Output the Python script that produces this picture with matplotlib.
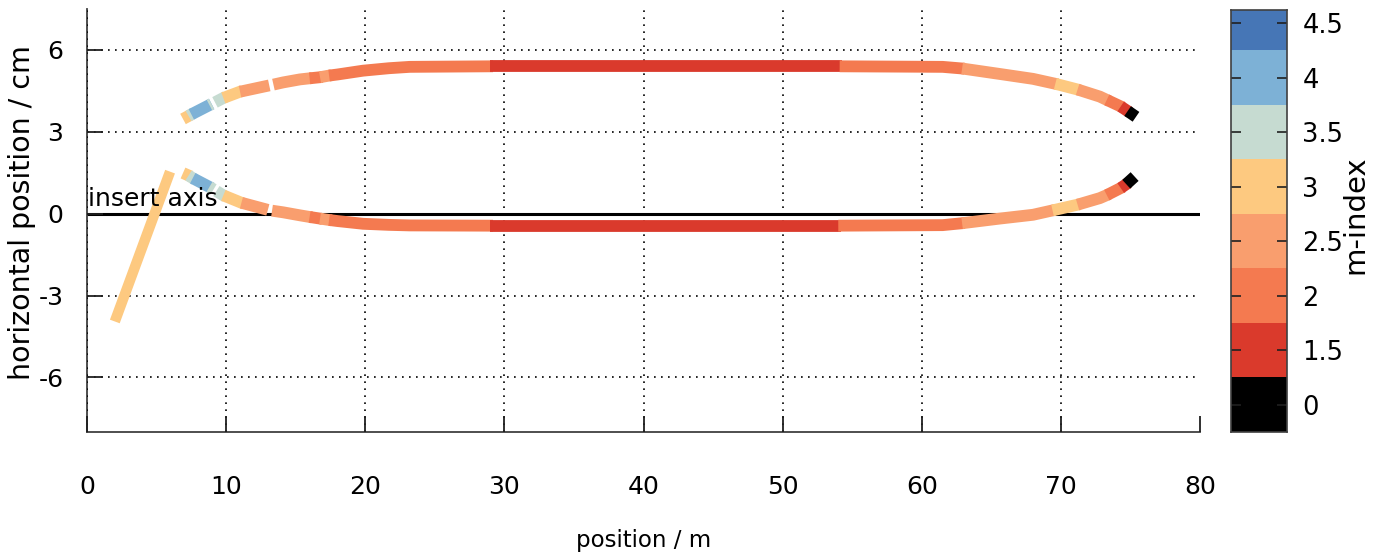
import numpy as np
import matplotlib
matplotlib.use("Agg")
import matplotlib.pyplot as plt
from matplotlib.colors import ListedColormap, BoundaryNorm

plt.rcParams['font.family'] = ['DejaVu Sans']

# ---------------- data ----------------
m_levels = [0, 1.5, 2, 2.5, 3, 3.5, 4, 4.5]
m_labels = ["0", "1.5", "2", "2.5", "3", "3.5", "4", "4.5"]
m_colors = ["#000000", "#DA3A2C", "#F47A50", "#F99E6E", "#FDC980",
            "#C6DBD1", "#7DB1D6", "#4676B6"]

upper_pos = [6.9, 7.3, 7.5, 8.8, 8.95, 9.2, 9.8, 11.0, 13.1, 13.4, 14.1, 15.3,
             16.0, 16.75, 17.4, 18.0, 19.84, 21.7, 23.2, 29.0, 54.1, 61.5,
             62.9, 65.6, 68.0, 69.6, 71.2, 72.8, 73.3, 74.3, 74.8, 75.4]
upper_h = [3.47, 3.58, 3.64, 3.98, 4.02, 4.08, 4.24, 4.47, 4.70, 4.73, 4.81,
           4.92, 4.96, 5.00, 5.06, 5.10, 5.24, 5.33, 5.38, 5.40, 5.40, 5.38,
           5.32, 5.12, 4.94, 4.76, 4.55, 4.29, 4.17, 3.93, 3.76, 3.55]
upper_m = [3.0, 3.5, 4.0, 3.5, np.nan, 3.5, 3.0, 2.5, np.nan, 2.5, 2.5, 2.5,
           2.0, 2.5, 2.0, 2.0, 2.0, 2.0, 2.0, 1.5, 2.0, 2.0,
           2.5, 2.5, 2.5, 3.0, 2.5, 2.5, 2.0, 1.5, 0, np.nan]

lower_pos = [6.9, 7.3, 7.6, 8.8, 9.1, 9.3, 9.8, 11.1, 13.0, 13.3, 14.1, 15.3,
             16.0, 16.75, 17.4, 18.0, 19.84, 21.7, 23.2, 29.0, 54.0, 61.5,
             62.9, 65.6, 68.0, 69.4, 71.2, 72.8, 73.3, 74.3, 74.7, 75.3]
lower_h = [1.49, 1.40, 1.30, 0.98, 0.89, 0.83, 0.67, 0.40, 0.14, 0.11, 0.05,
           -0.06, -0.12, -0.18, -0.23, -0.27, -0.37, -0.41, -0.43, -0.44, -0.44,
           -0.42, -0.35, -0.18, -0.04, 0.12, 0.33, 0.57, 0.68, 0.94, 1.08, 1.36]
lower_m = upper_m

insert_pos = [2.0, 5.97]
insert_h = [-3.95, 1.54]
insert_m = 3.0

# ---------------- figure ----------------
W, H = 1374, 555
fig = plt.figure(figsize=(W / 100, H / 100), dpi=100)
ax = fig.add_axes([87 / W, (H - 432) / H, (1200 - 87) / W, (432 - 9) / H])
ax.set_xlim(0, 80)
ax.set_ylim(-8, 7.5)

cmap = ListedColormap(m_colors)
LW = 8.5


def color_of(m):
    return m_colors[m_levels.index(m)]


def extend_end(x0, y0, x1, y1, px=2.5):
    # lengthen the end of a run slightly (in screen pixels) to close joint wedges
    t = ax.transData
    p0 = t.transform((x0, y0))
    p1 = t.transform((x1, y1))
    d = p1 - p0
    d = d / np.hypot(*d)
    return t.inverted().transform(p1 + d * px)


def draw_curve(xs, ys, ms):
    n = len(xs) - 1
    i = 0
    while i < n:
        if np.isnan(ms[i]):
            i += 1
            continue
        j = i
        while j + 1 < n and ms[j + 1] == ms[i]:
            j += 1
        px_ = list(xs[i:j + 2])
        py_ = list(ys[i:j + 2])
        if j + 1 < n and not np.isnan(ms[j + 1]):
            ex, ey = extend_end(px_[-2], py_[-2], px_[-1], py_[-1])
            px_[-1], py_[-1] = ex, ey
        ax.plot(px_, py_, color=color_of(ms[i]), lw=LW,
                solid_capstyle='butt', solid_joinstyle='miter', zorder=3)
        i = j + 1


# insert axis line
ax.axhline(0, color='black', lw=2.2, zorder=2)
ax.text(0.05, 0.08, "insert axis", fontsize=18, ha='left', va='bottom', zorder=5)

ax.plot(insert_pos, insert_h, color=color_of(insert_m), lw=7.5,
        solid_capstyle='butt', zorder=3)
draw_curve(upper_pos, upper_h, upper_m)
draw_curve(lower_pos, lower_h, lower_m)

ax.set_xticks(np.arange(0, 81, 10))
ax.set_yticks([-6, -3, 0, 3, 6])
ax.set_yticklabels(["-6", "-3", "0", "3", "6"])

ax.grid(True, color='black', linestyle=(0, (1, 3.2)), lw=1.2, zorder=4)
ax.set_axisbelow(False)
ax.get_xgridlines()[-1].set_visible(False)
for s in ['top', 'right']:
    ax.spines[s].set_visible(False)
for s in ['left', 'bottom']:
    ax.spines[s].set_color('#404040')
    ax.spines[s].set_linewidth(1.3)

ax.tick_params(axis='y', direction='in', length=11.5, width=1.3, color='#202020',
               labelsize=18, pad=17)
ax.tick_params(axis='x', direction='in', length=11.5, width=1.3, color='#202020',
               labelsize=18, pad=31)

ax.set_xlabel("position / m", fontsize=16.5)
ax.xaxis.set_label_coords(0.5, (432 - 540) / 422)
ax.xaxis.label.set_va('center')
ax.set_ylabel("horizontal position / cm", fontsize=20.5)
ax.yaxis.set_label_coords((22 - 87) / 1113, (432 - 213) / 422)
ax.yaxis.label.set_va('center')

# ---------------- colorbar ----------------
cax = fig.add_axes([1231 / W, (H - 432) / H, 56 / W, (432 - 10) / H])
idx = np.arange(len(m_levels))
edges = np.arange(len(m_levels) + 1) - 0.5
cax.pcolormesh([0, 1], edges, idx.reshape(-1, 1), cmap=cmap,
               norm=BoundaryNorm(edges, cmap.N), shading='flat')
cax.set_xlim(0, 1)
cax.set_ylim(-0.5, 7.24)
cax.set_xticks([])
cax.yaxis.tick_right()
cax.set_yticks(idx)
cax.set_yticklabels(m_labels)
cax.tick_params(axis='y', direction='in', length=7, width=1.2, color='#202020',
                labelsize=18.5, pad=11, left=True, right=True)
for s in cax.spines.values():
    s.set_color('#404040')
    s.set_linewidth(1.2)
cax.set_ylabel("m-index", fontsize=21, rotation=90)
cax.yaxis.set_label_position('right')
cax.yaxis.set_label_coords((1355 - 1231) / 56, (432 - 215) / 422)
cax.yaxis.label.set_va('center')

fig.savefig("out.png", dpi=100)
